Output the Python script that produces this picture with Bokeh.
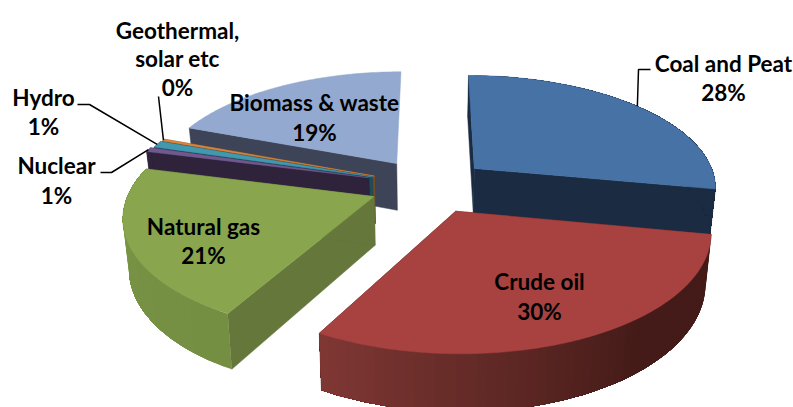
import numpy as np
from bokeh.core.properties import value
from bokeh.embed import file_html
from bokeh.models import Range1d
from bokeh.plotting import figure
from bokeh.resources import INLINE

# Share of total primary energy supply, percent
categories = ["Coal and Peat", "Crude oil", "Natural gas", "Nuclear", "Hydro",
              "Geothermal, solar etc", "Biomass & waste"]
shares = [28.0, 30.0, 21.0, 0.6, 0.9, 0.3, 19.2]
label_texts = [["Coal and Peat", "28%"], ["Crude oil", "30%"], ["Natural gas", "21%"],
               ["Nuclear", "1%"], ["Hydro", "1%"], ["Geothermal,", "solar etc", "0%"],
               ["Biomass & waste", "19%"]]

top_colors = ["#4672A6", "#A74240", "#89A54E", "#71588F", "#4198AF", "#DB843D", "#93A9CF"]
radial_colors = ["#1B2C42", "#451C19", "#65773A", "#2E233A", "#1E4C58", "#7A4A20", "#3D4457"]
# Rim shading: colour at the slice's start angle, colour at its end angle, angle the ramp starts
rim_ramps = [((27, 43, 66), (27, 43, 66), 0), ((68, 27, 24), (128, 56, 52), 140),
             ((116, 142, 66), (122, 150, 70), 208), ((46, 35, 58), (46, 35, 58), 0),
             ((30, 76, 88), (30, 76, 88), 0), ((122, 74, 32), (122, 74, 32), 0),
             ((61, 68, 87), (61, 68, 87), 0)]
# Paint order, back to front
draw_order = [6, 5, 4, 3, 0, 2, 1]
# How far each slice is pulled out of the pie
explode = [0.245, 0.245, 0.245, 0.262, 0.25, 0.245, 0.245]
# The biomass slice sits at the back: its wall and closing face stay out of sight
wall_shown = [True, True, True, True, True, True, False]
closing_face = [True, True, True, True, True, True, False]

# Projection of the exploded pie onto the page
CX, CY = 429.0, 185.0
RX, RY = 243.0, 112.0
PERSP = 0.153
DEPTH = 48.0
BOTTOM_SCALE = 0.98


def project(x, y, z=0.0):
    """World point on the unit pie (y toward the back, z = 1 at the base) to page pixels."""
    f = 1.0 / (1.0 + PERSP * y)
    s = 1.0 - (1.0 - BOTTOM_SCALE) * z
    return CX + RX * x * f * s, CY - RY * y * f * s + DEPTH * z * f ** 1.2


bounds = np.cumsum([0.0] + shares) * 3.6
starts, ends = bounds[:-1], bounds[1:]
mids = (starts + ends) / 2
apex = [(e * np.sin(np.radians(m)), e * np.cos(np.radians(m))) for e, m in zip(explode, mids)]


def rim(i, deg, z=0.0):
    a = np.radians(deg)
    return project(apex[i][0] + np.sin(a), apex[i][1] + np.cos(a), z)


p = figure(width=793, height=407, output_backend="svg", toolbar_location=None,
           x_range=Range1d(0, 793), y_range=Range1d(407, 0), min_border=0)
p.axis.visible = False
p.grid.visible = False
p.outline_line_color = None
p.background_fill_color = "white"


def rgb(c):
    return "#%02x%02x%02x" % tuple(int(round(v)) for v in c)


for i in draw_order:
    a0, a1 = starts[i], ends[i]
    top_apex = project(*apex[i])
    low_apex = project(*apex[i], 1.0)

    # Flat cut faces running from the centre to the rim
    for deg, shown in ((a0, True), (a1, closing_face[i])):
        if shown:
            q = [top_apex, rim(i, deg), rim(i, deg, 1.0), low_apex]
            p.patch([c[0] for c in q], [c[1] for c in q], fill_color=radial_colors[i],
                    line_color=radial_colors[i], line_width=0.5)

    # Curved outer wall: each shaded strip runs on to the far end of the slice, and the
    # next one paints over it, so no seams show between neighbouring strips
    if wall_shown[i]:
        steps = max(int((a1 - a0) / 2.0), 1)
        edge = np.linspace(a0, a1, steps + 1)
        c0, c1, ramp_from = rim_ramps[i]
        for j in range(steps):
            tail = np.linspace(edge[j], a1, steps - j + 1)
            q = [rim(i, d) for d in tail] + [rim(i, d, 1.0) for d in tail[::-1]]
            t = np.clip((edge[j] - ramp_from) / max(a1 - ramp_from, 1e-6), 0, 1)
            col = rgb(np.array(c0) + (np.array(c1) - np.array(c0)) * t)
            p.patch([c[0] for c in q], [c[1] for c in q], fill_color=col, line_color=None)

    # Top face of the slice
    arc = [rim(i, d) for d in np.linspace(a0, a1, max(int(a1 - a0), 2) + 1)]
    poly = [top_apex] + arc
    p.patch([c[0] for c in poly], [c[1] for c in poly], fill_color=top_colors[i],
            line_color=top_colors[i], line_width=0.5)

# Leader lines end on the rim at the middle of each slice
leaders = {
    0: [(650, 69), (638, 69)],
    3: [(100, 172), (111, 172)],
    4: [(77, 104), (89, 104)],
    5: [(158, 96)],
}
for i, pts in leaders.items():
    pts = pts + [rim(i, mids[i])]
    p.line([c[0] for c in pts], [c[1] for c in pts], line_color="black", line_width=1.5)

# Label centres in page pixels: x, then the y of each text line
label_pos = [(723, [63, 92]), (539, [281, 311]), (203, [226, 255]), (56, [165, 195]),
             (43, [97, 126]), (177, [30, 58, 87]), (314, [102, 132])]
for lines, (lx, ys) in zip(label_texts, label_pos):
    p.text([lx] * len(lines), ys, text=lines, text_font=value("Lato"), text_font_style="bold",
           text_font_size="22.5px", text_color="black", text_align="center", text_baseline="middle")

open("out.html", "w").write(file_html(p, INLINE))
